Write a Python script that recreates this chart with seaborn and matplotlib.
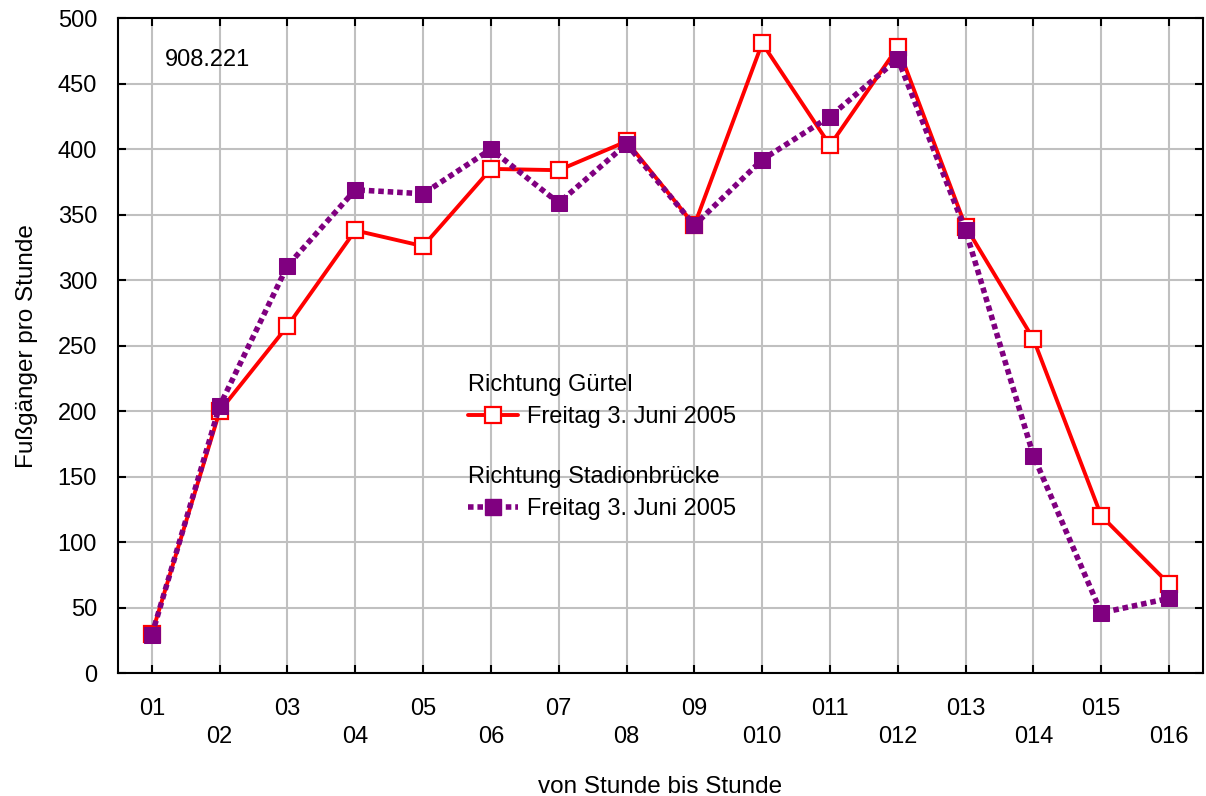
import numpy as np
import pandas as pd
import matplotlib
matplotlib.use("Agg")
import matplotlib.pyplot as plt
import seaborn as sns
from matplotlib.lines import Line2D

categories = ["01", "02", "03", "04", "05", "06", "07", "08",
              "09", "010", "011", "012", "013", "014", "015", "016"]
guertel = [30, 200, 265, 338, 326, 385, 384, 406, 342, 481, 403, 478, 341, 255, 120, 68]
stadion = [29, 204, 311, 369, 366, 400, 359, 404, 342, 392, 425, 469, 338, 166, 46, 57]
y_ticks = [0, 50, 100, 150, 200, 250, 300, 350, 400, 450, 500]

sns.set_theme(style="white")
plt.rcParams['font.family'] = ['Liberation Sans', 'DejaVu Sans']
plt.rcParams['text.color'] = 'black'
plt.rcParams['axes.labelcolor'] = 'black'
plt.rcParams['xtick.color'] = 'black'
plt.rcParams['ytick.color'] = 'black'

FS = 17

fig = plt.figure(figsize=(12.06, 7.96), dpi=100)
ax = fig.add_axes([0.0978, 0.1545, 0.8997, 0.8225])

pos = np.arange(len(categories))
df_g = pd.DataFrame({"x": pos, "y": guertel})
df_s = pd.DataFrame({"x": pos, "y": stadion})

RED = "#ff0000"
PUR = "#800080"

sns.lineplot(data=df_g, x="x", y="y", ax=ax, color=RED, linewidth=2.8,
             marker="s", markersize=11.5, markerfacecolor="white",
             markeredgecolor=RED, markeredgewidth=1.6, zorder=4)
sns.lineplot(data=df_s, x="x", y="y", ax=ax, color=PUR, linewidth=4,
             linestyle=(0, (1.0, 0.7)), marker="s", markersize=11.5,
             markerfacecolor=PUR, markeredgecolor=PUR, zorder=5)

ax.set_xlim(-0.5, len(categories) - 0.5)
ax.set_ylim(0, 500)
ax.set_yticks(y_ticks)
ax.set_yticklabels([str(v) for v in y_ticks], fontsize=FS)
ax.set_xticks(pos)
ax.set_xticklabels([c if i % 2 == 0 else "\n" + c for i, c in enumerate(categories)],
                   fontsize=FS, linespacing=1.35)
ax.tick_params(axis="both", direction="in", length=6, width=1.5,
               top=True, right=True, bottom=True, left=True)
ax.tick_params(axis="x", pad=18)
ax.tick_params(axis="y", pad=15)
ax.grid(True, color="#c0c0c0", linewidth=1.5)
ax.set_axisbelow(True)
for s in ax.spines.values():
    s.set_color("black")
    s.set_linewidth(1.5)

ax.set_xlabel("von Stunde bis Stunde", fontsize=FS + 0.5, labelpad=20)
ax.set_ylabel("Fußgänger pro Stunde", fontsize=FS + 0.5, labelpad=14)

ax.text(0.043, 0.936, "908.221", transform=ax.transAxes, fontsize=FS,
        ha="left", va="center")

h1 = Line2D([], [], color=RED, linewidth=2.8, marker="s", markersize=11.5,
            markerfacecolor="white", markeredgecolor=RED, markeredgewidth=1.6)
h2 = Line2D([], [], color=PUR, linewidth=4, linestyle=(0, (1.0, 0.7)),
            marker="s", markersize=11.5, markerfacecolor=PUR, markeredgecolor=PUR)
leg_kw = dict(loc="upper left", frameon=False, fontsize=FS, title_fontsize=FS,
              alignment="left", handlelength=2.1, handletextpad=0.4,
              borderpad=0, borderaxespad=0, labelspacing=0.45)
leg1 = ax.legend([h1], ["Freitag 3. Juni 2005"], title="Richtung Gürtel",
                 bbox_to_anchor=(0.323, 0.457), **leg_kw)
ax.add_artist(leg1)
ax.legend([h2], ["Freitag 3. Juni 2005"], title="Richtung Stadionbrücke",
          bbox_to_anchor=(0.323, 0.3165), **leg_kw)

fig.savefig("out.png", dpi=100)
